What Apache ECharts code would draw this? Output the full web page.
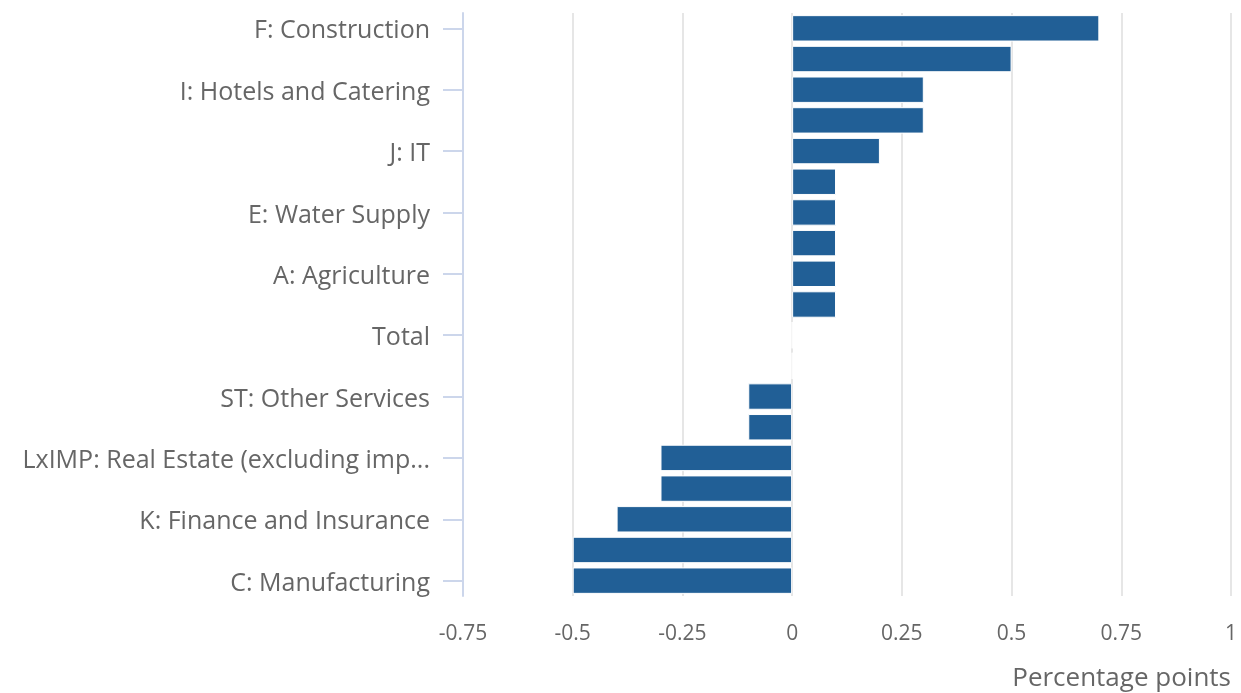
<!DOCTYPE html>
<html>
<head>
<meta charset="utf-8">
<script src="https://cdn.jsdelivr.net/npm/echarts@6/dist/echarts.min.js"></script>
<style>
html,body{margin:0;padding:0;background:#fff;}
#chart{width:1241px;height:693px;}
</style>
</head>
<body>
<div id="chart"></div>
<script>
const categories = [
  "F: Construction",
  "Q: Health and Social Work",
  "I: Hotels and Catering",
  "M: Professional Services",
  "J: IT",
  "B: Mining and Quarrying",
  "E: Water Supply",
  "N: Administrative Services",
  "A: Agriculture",
  "P: Education",
  "Total",
  "D: Energy Supply",
  "ST: Other Services",
  "R: Arts and Recreation",
  "LxIMP: Real Estate (excluding imputed rent)",
  "O: Public Administration",
  "K: Finance and Insurance",
  "H: Transport and Storage",
  "C: Manufacturing"
];
const values = [0.7, 0.5, 0.3, 0.3, 0.2, 0.1, 0.1, 0.1, 0.1, 0.1, 0, 0, -0.1, -0.1, -0.3, -0.3, -0.4, -0.5, -0.5];
const xTicks = { min: -0.75, max: 1, interval: 0.25 };
const axisName = "Percentage points";

const chart = echarts.init(document.getElementById('chart'));
chart.setOption({
  animation: false,
  textStyle: { fontFamily: 'Open Sans' },
  grid: { left: 463, right: 10, top: 13, bottom: 97, containLabel: false, outerBoundsMode: 'none' },
  xAxis: {
    type: 'value',
    min: xTicks.min, max: xTicks.max, interval: xTicks.interval,
    axisLine: { show: false },
    axisTick: { show: false },
    splitLine: { showMinLine: false, lineStyle: { color: '#e6e6e6', width: 2 } },
    axisLabel: { color: '#666', fontSize: 21, margin: 28, fontFamily: 'Open Sans' },
    name: axisName,
    nameLocation: 'end',
    nameGap: 0,
    nameTextStyle: { color: '#666', fontSize: 26, align: 'right', verticalAlign: 'top', padding: [70, 0, 0, 0], fontFamily: 'Open Sans' }
  },
  yAxis: {
    type: 'category',
    data: categories,
    inverse: true,
    z: 5,
    axisLine: { show: true, onZero: false, lineStyle: { color: '#ccd6eb', width: 2 } },
    axisTick: { show: true, interval: 1, alignWithLabel: true, length: 20, lineStyle: { color: '#ccd6eb', width: 2 } },
    axisLabel: {
      interval: 1, color: '#666', fontSize: 25, margin: 33, width: 422,
      overflow: 'truncate', ellipsis: '...', fontFamily: 'Open Sans',
      lineHeight: 36, verticalAlign: 'top', padding: [-15, 0, 0, 0]
    },
    splitLine: { show: false }
  },
  series: [{
    type: 'bar',
    data: values,
    barCategoryGap: '14%',
    itemStyle: { color: '#215f96', borderColor: '#ffffff', borderWidth: 1 }
  }]
});
</script>
</body>
</html>
